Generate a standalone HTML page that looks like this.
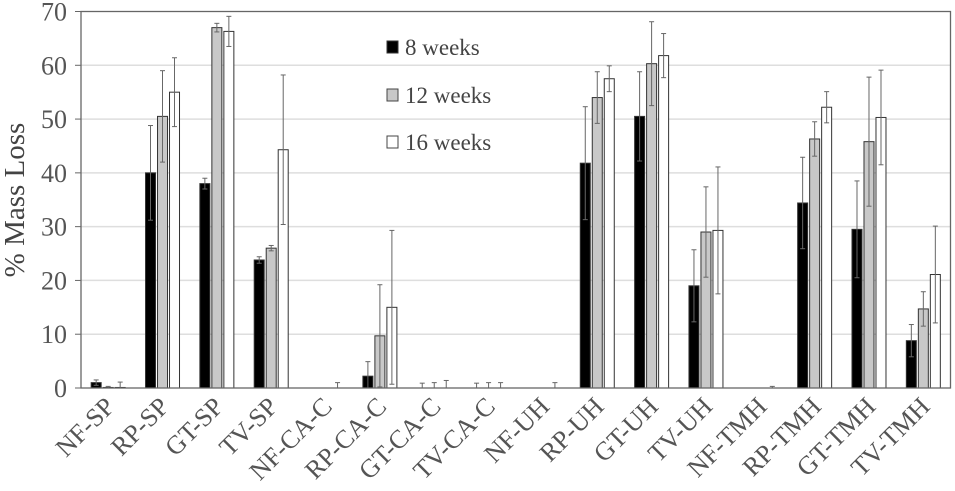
<!DOCTYPE html>
<html><head><meta charset="utf-8"><style>
html,body{margin:0;padding:0;background:#fff;}
svg{display:block;font-family:"Liberation Serif",serif;}
</style></head><body>
<svg id="chart" width="955" height="491" viewBox="0 0 955 491" xmlns="http://www.w3.org/2000/svg">
<g id="grid"></g><g id="bars"></g><g id="axes"></g>
<g id="legend">
 <rect x="387" y="41" width="11" height="12" fill="#000" stroke="#333"/>
 <text x="405" y="55" font-size="23" fill="#444">8 weeks</text>
 <rect x="387" y="89" width="11" height="12" fill="#c8c8c8" stroke="#444"/>
 <text x="405" y="103" font-size="23" fill="#444">12 weeks</text>
 <rect x="387" y="136" width="11" height="12" fill="#fff" stroke="#444"/>
 <text x="405" y="150" font-size="23" fill="#444">16 weeks</text>
</g>
<text transform="translate(24,200) rotate(-90)" text-anchor="middle" font-size="29" fill="#444">% Mass Loss</text>
</svg>
<script>
const categories=["NF-SP","RP-SP","GT-SP","TV-SP","NF-CA-C","RP-CA-C","GT-CA-C","TV-CA-C","NF-UH","RP-UH","GT-UH","TV-UH","NF-TMH","RP-TMH","GT-TMH","TV-TMH"];
const week8=[1.0,40,38,23.8,0,2.2,0,0,0,41.8,50.5,19,0,34.4,29.5,8.8];
const week8Err=[0.5,8.8,1,0.6,0,2.7,0.9,0.9,0,10.5,8.3,6.7,0,8.5,9,3];
const week12=[0.1,50.5,67,26,0,9.7,0,0,0,54,60.3,29,0,46.3,45.8,14.7];
const week12Err=[0.2,8.5,0.8,0.5,0,9.5,1,1,0,4.8,7.8,8.4,0,3.2,12,3.2];
const week16=[0.1,55,66.3,44.3,0,15,0,0,0,57.5,61.8,29.3,0,52.2,50.3,21.1];
const week16Err=[1,6.4,2.8,13.9,1,14.3,1.4,1,1,2.4,4.1,11.8,0.3,2.9,8.8,9];
const yTicks=[0,10,20,30,40,50,60,70];
const seriesNames=["8-weeks","12-weeks","16-weeks"];

const NS="http://www.w3.org/2000/svg";
const L=81,R=950.5,T=11.5,B=388;
const y=v=>B-(v/70)*(B-T);
const gw=(R-L)/categories.length;
const xc=i=>L+gw*(i+0.5);
function mk(tag,attrs,parent){const e=document.createElementNS(NS,tag);for(const k in attrs)e.setAttribute(k,attrs[k]);parent.appendChild(e);return e;}
const grid=document.getElementById('grid'),bars=document.getElementById('bars'),axes=document.getElementById('axes');
yTicks.forEach(t=>{
  if(t>0&&t<70){const g=mk('line',{x1:L,x2:R,y1:y(t),y2:y(t),stroke:'#dedede','stroke-width':1.5},grid);
  
  }
  const tk=mk('line',{x1:L-6,x2:L,y1:y(t),y2:y(t),stroke:'#666'},axes);
  
  
  const lb=mk('text',{x:L-14,y:y(t)+9,'text-anchor':'end','font-size':26,fill:'#555'},axes);
  lb.textContent=t;
  
  
});
const frame=mk('rect',{x:L,y:T,width:R-L,height:B-T,fill:'none',stroke:'#666','stroke-width':1.3},axes);


const series=[[week8,week8Err,'#000'],[week12,week12Err,'#c8c8c8'],[week16,week16Err,'#fff']];
categories.forEach((c,i)=>{
  series.forEach((s,k)=>{
    const off=-17+12*k, v=s[0][i], e=s[1][i], x0=xc(i)+off;
    if(v>0){const r=mk('rect',{x:x0,y:y(v),width:10,height:B-y(v),fill:s[2],stroke:'#333','stroke-width':1},bars);
    
    }
    if(e>0){const cx=x0+5,lo=Math.max(0,v-e),hi=v+e;
      const g=mk('g',{stroke:'#666','stroke-width':1},bars);
      
      
      mk('line',{x1:cx,x2:cx,y1:y(lo),y2:y(hi)},g);
      mk('line',{x1:cx-2.5,x2:cx+2.5,y1:y(hi),y2:y(hi)},g);
      if(v>0)mk('line',{x1:cx-2.5,x2:cx+2.5,y1:y(lo),y2:y(lo)},g);}
  });
  const t=mk('text',{transform:`translate(${xc(i)+8},${B+20}) rotate(-45)`,'text-anchor':'end','font-size':26,fill:'#555'},axes);
  t.textContent=c;
  
  
});
</script>
</body></html>
